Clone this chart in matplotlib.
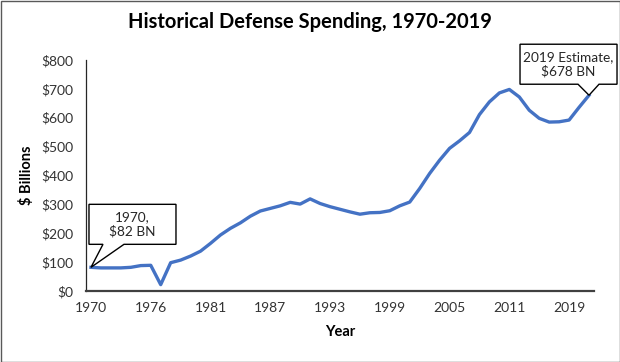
import matplotlib

matplotlib.use("Agg")
import matplotlib.pyplot as plt
import matplotlib.transforms as mtransforms
from matplotlib.patches import Polygon, Rectangle

# Categories: 1970..1976, the transition quarter, then 1977..2019 (51 points)
spending = [
    82, 80, 80, 80, 82, 88, 89,       # 1970-1976
    22,                               # transition quarter
    98, 107, 121, 138, 165, 194, 217, 236, 259, 277, 286, 295, 307, 301, 319,
    303, 292, 283, 274, 266, 271, 272, 278, 295, 308, 355, 407, 453, 494, 520,
    549, 611, 655, 686, 698, 672, 626, 598, 585, 586, 592, 636, 678,
]
tick_labels = ["1970", "1976", "1981", "1987", "1993", "1999", "2005", "2011", "2019"]
tick_step = 6
y_ticks = [0, 100, 200, 300, 400, 500, 600, 700, 800]

FONT = ["Lato", "DejaVu Sans"]
BLUE = "#4472C4"
GREY = "#333333"

plt.rcParams["font.family"] = FONT

fig = plt.figure(figsize=(6.2, 3.62), dpi=100)
ax = fig.add_axes([86 / 620, 71 / 362, 508 / 620, 231 / 362])

xs = list(range(len(spending)))
ax.plot(xs, spending, color=BLUE, linewidth=2.4, solid_joinstyle="round", zorder=3)

ax.set_xlim(-0.5, len(spending) - 0.5)
ax.set_ylim(0, 800)
ax.set_xticks(xs[::tick_step])
ax.set_xticklabels(tick_labels)
ax.set_yticks(y_ticks)
ax.set_yticklabels([f"${v}" for v in y_ticks])
ax.tick_params(length=0, labelsize=10, colors=GREY, pad=9)
ax.tick_params(axis="x", pad=8)

for side in ("top", "right"):
    ax.spines[side].set_visible(False)
ax.spines["left"].set_color("#262626")
ax.spines["left"].set_linewidth(0.9)
ax.spines["bottom"].set_color("#404040")
ax.spines["bottom"].set_linewidth(1.6)

ax.set_xlabel("Year", fontsize=10.5, fontweight="bold", labelpad=8)
ax.set_ylabel("$ Billions", fontsize=10.5, fontweight="bold", labelpad=5)
fig.suptitle("Historical Defense Spending, 1970-2019", fontsize=14.5,
             fontweight="bold", y=1 - 22 / 362, va="center")


def callout(ax, idx, text, box, base):
    """Box + wedge callout; box/base offsets in pixels relative to the data point."""
    x0, x1, y0, y1 = box
    b0, b1 = base
    trans = mtransforms.Affine2D().scale(1 / 100) + fig.dpi_scale_trans + \
        mtransforms.ScaledTranslation(idx, spending[idx], ax.transData)
    verts = [(x0, y0), (b0, y0), (0, 0), (b1, y0), (x1, y0), (x1, y1), (x0, y1)]
    ax.add_patch(Polygon(verts, closed=True, facecolor="white", edgecolor="black",
                         linewidth=1.0, transform=trans, clip_on=False, zorder=5))
    ax.text((x0 + x1) / 2, (y0 + y1) / 2, text, transform=trans, ha="center",
            va="center", fontsize=9.8, color="#262626", linespacing=1.25,
            zorder=6, clip_on=False)


callout(ax, 0, "1970,\n$82 BN", box=(-2, 85, 23, 63), base=(12, 33))
callout(ax, len(spending) - 1, "2019 Estimate,\n$678 BN", box=(-69, 28, 11, 51),
        base=(-11, 10))

fig.patches.append(Rectangle((0.5 / 620, 0.5 / 362), 619 / 620, 361 / 362,
                             transform=fig.transFigure, fill=False,
                             edgecolor="#595959", linewidth=1.0))

fig.savefig("out.png", dpi=100)
plt.close(fig)
